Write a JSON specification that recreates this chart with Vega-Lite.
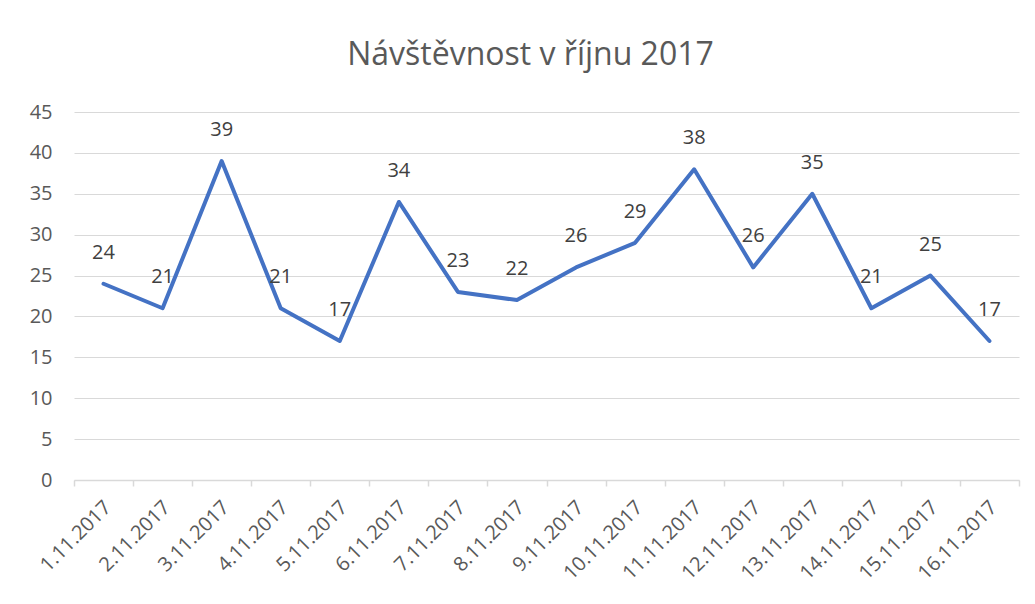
{
  "$schema": "https://vega.github.io/schema/vega-lite/v6.json",
  "autosize": "none",
  "width": 945,
  "height": 368,
  "padding": {"left": 74, "top": 112, "right": 16, "bottom": 124},
  "background": "white",
  "title": {
    "text": "Návštěvnost v říjnu 2017",
    "font": "Open Sans",
    "fontSize": 32,
    "fontWeight": "normal",
    "color": "#595959",
    "anchor": "middle",
    "dx": -16,
    "offset": 30
  },
  "config": {
    "view": {"stroke": null},
    "font": "Open Sans"
  },
  "data": {
    "values": [
      {"datum": "1.11.2017", "value": 24},
      {"datum": "2.11.2017", "value": 21},
      {"datum": "3.11.2017", "value": 39},
      {"datum": "4.11.2017", "value": 21},
      {"datum": "5.11.2017", "value": 17},
      {"datum": "6.11.2017", "value": 34},
      {"datum": "7.11.2017", "value": 23},
      {"datum": "8.11.2017", "value": 22},
      {"datum": "9.11.2017", "value": 26},
      {"datum": "10.11.2017", "value": 29},
      {"datum": "11.11.2017", "value": 38},
      {"datum": "12.11.2017", "value": 26},
      {"datum": "13.11.2017", "value": 35},
      {"datum": "14.11.2017", "value": 21},
      {"datum": "15.11.2017", "value": 25},
      {"datum": "16.11.2017", "value": 17}
    ]
  },
  "encoding": {
    "x": {
      "field": "datum",
      "type": "ordinal",
      "sort": null,
      "scale": {"type": "band", "paddingInner": 0, "paddingOuter": 0},
      "axis": {
        "title": null,
        "labelAngle": -45,
        "labelAlign": "right",
        "labelBaseline": "middle",
        "labelFontSize": 20,
        "labelColor": "#595959",
        "labelPadding": 18,
        "labelOffset": 4,
        "domainColor": "#d9d9d9",
        "domainWidth": 1.5,
        "tickBand": "extent",
        "tickColor": "#d9d9d9",
        "tickWidth": 1.5,
        "tickSize": 6,
        "grid": false
      }
    },
    "y": {
      "field": "value",
      "type": "quantitative",
      "scale": {"domain": [0, 45], "nice": false},
      "axis": {
        "title": null,
        "values": [0, 5, 10, 15, 20, 25, 30, 35, 40, 45],
        "domain": false,
        "ticks": false,
        "labelFontSize": 20,
        "labelColor": "#595959",
        "labelPadding": 22,
        "gridColor": "#d9d9d9",
        "gridWidth": 1.2
      }
    }
  },
  "layer": [
    {
      "mark": {"type": "line", "color": "#4472C4", "strokeWidth": 4, "strokeJoin": "round", "strokeCap": "round"}
    },
    {
      "mark": {"type": "text", "dy": -31, "fontSize": 20, "color": "#404040", "baseline": "middle"},
      "encoding": {"text": {"field": "value", "type": "quantitative"}}
    }
  ]
}
